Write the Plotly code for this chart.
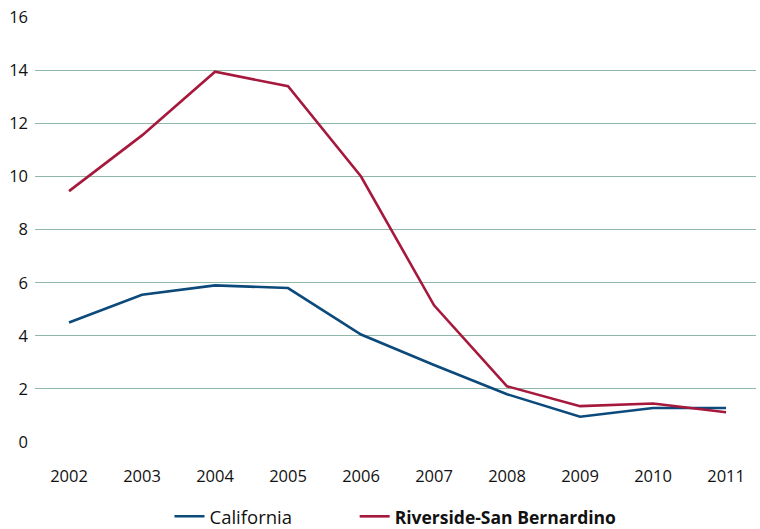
import plotly.graph_objects as go

years = ["2002", "2003", "2004", "2005", "2006", "2007", "2008", "2009", "2010", "2011"]
california = [4.5, 5.55, 5.9, 5.8, 4.05, 2.9, 1.8, 0.95, 1.28, 1.28]
riverside = [9.45, 11.55, 13.95, 13.4, 10.0, 5.15, 2.1, 1.35, 1.45, 1.12]
y_ticks = [0, 2, 4, 6, 8, 10, 12, 14, 16]

fig = go.Figure()
fig.add_trace(go.Scatter(x=years, y=california, mode="lines",
                         name="California" + "\u00a0" * 12,
                         line=dict(color="#0b4a7b", width=2.6)))
fig.add_trace(go.Scatter(x=years, y=riverside, mode="lines",
                         name="<b><span style='font-size:17.5px'>Riverside-San Bernardino</span></b>",
                         line=dict(color="#a6193c", width=2.6)))

fig.update_layout(
    width=760, height=529,
    margin=dict(l=35, r=4, t=17, b=87, autoexpand=False),
    paper_bgcolor="white", plot_bgcolor="white",
    font=dict(family="Open Sans, Noto Sans, sans-serif", size=16, color="#111111"),
    showlegend=True,
    legend=dict(orientation="h", x=0.5, xanchor="center", y=-0.176, yanchor="middle",
                font=dict(size=18.5), traceorder="normal"),
    xaxis=dict(type="category", range=[-0.466, 9.41], showgrid=False, zeroline=False,
               showline=False, ticks="", tickfont=dict(size=16.5), ticklabelstandoff=22,
               automargin=False),
    yaxis=dict(range=[0, 16.01], tickvals=y_ticks, showgrid=True, gridcolor="#8fb8a8",
               gridwidth=1.2, zeroline=False, showline=False, ticks="",
               tickfont=dict(size=16.5), ticklabelstandoff=6, automargin=False,
               ticklabeloverflow="allow"),
)

# remove the browser's default 8px body margin so the figure fills the window
fig.write_html("out.html", config={"displayModeBar": False},
               post_script="document.body.style.margin='0';")
